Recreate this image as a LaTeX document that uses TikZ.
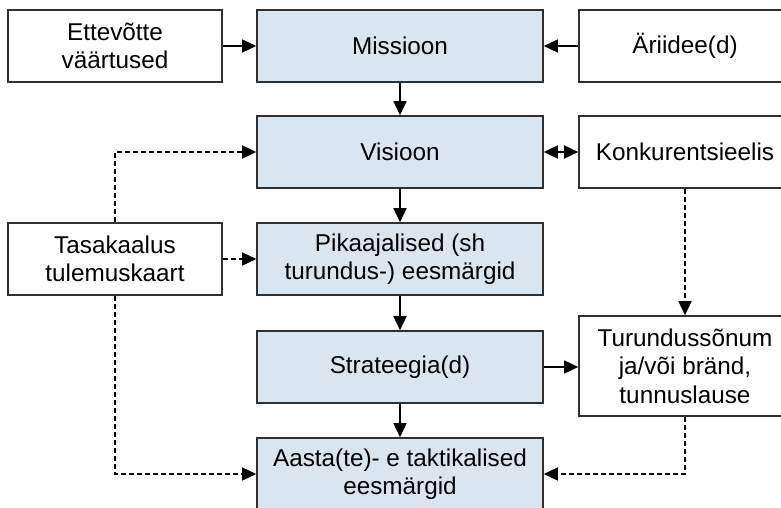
\documentclass[tikz,border=0pt]{standalone}
\usepackage{fontspec}
\setmainfont{Liberation Sans}
\usetikzlibrary{arrows.meta}
\definecolor{boxblue}{HTML}{D9E5EF}
\definecolor{boxline}{HTML}{303030}
\tikzset{
  tip/.tip={Triangle[length=14pt,width=13pt]},
  box/.style={draw=boxline, line width=1.6pt, align=center, inner sep=0pt,
    font=\fontsize{24.3}{28.5}\selectfont},
  main/.style={box, fill=boxblue, minimum width=286pt, minimum height=72pt},
  side/.style={box, fill=white, minimum width=214pt, minimum height=72pt},
  link/.style={line width=1.5pt, -tip},
  weak/.style={link, dash pattern=on 5pt off 3pt}
}

\begin{document}
\begin{tikzpicture}[x=1pt, y=-1pt]
  \useasboundingbox (0,0) rectangle (781,508);
  \clip (0,0) rectangle (781,508);
  \fill [white] (0,0) rectangle (781,508);
  % middle column
  \node [main] (miss) at (400,46) {Missioon};
  \node [main] (vis) at (400,152) {Visioon};
  \node [main] (pika) at (400,259) {Pikaajalised (sh\\turundus-) eesm\"argid};
  \node [main] (strat) at (400,367) {Strateegia(d)};
  \node [main] (aasta) at (400,474) {Aasta(te)- e taktikalised\\eesm\"argid};
  % left column
  \node [side] (ette) at (115,46) {Ettev\~otte\\v\"a\"artused};
  \node [side] (tasa) at (115,259) {Tasakaalus\\tulemuskaart};
  % right column
  \node [side, minimum width=212pt] (ari) at (685,46) {\"Ariidee(d)};
  \node [side, minimum width=212pt] (konk) at (685,152) {Konkurentsieelis};
  \node [side, minimum width=212pt, minimum height=100pt] (turu) at (685,366)
    {Turunduss\~onum\\ja/v\~oi br\"and,\\tunnuslause};
  \draw [link] (ette) -- (miss);
  \draw [link] (ari) -- (miss);
  \draw [link] (miss) -- (vis);
  \draw [link] (vis) -- (pika);
  \draw [link] (pika) -- (strat);
  \draw [link] (strat) -- (aasta);
  \draw [link, tip-tip] (vis) -- (konk);
  \draw [link] (strat.east) -- (strat.east -| turu.west);
  \draw [weak] (tasa.north) |- (vis.west);
  \draw [weak] (tasa) -- (pika);
  \draw [weak] (tasa.south) |- (aasta.west);
  \draw [weak] (konk.south) -- (turu.north);
  \draw [weak] (turu.south) |- (aasta.east);
\end{tikzpicture}
\end{document}
